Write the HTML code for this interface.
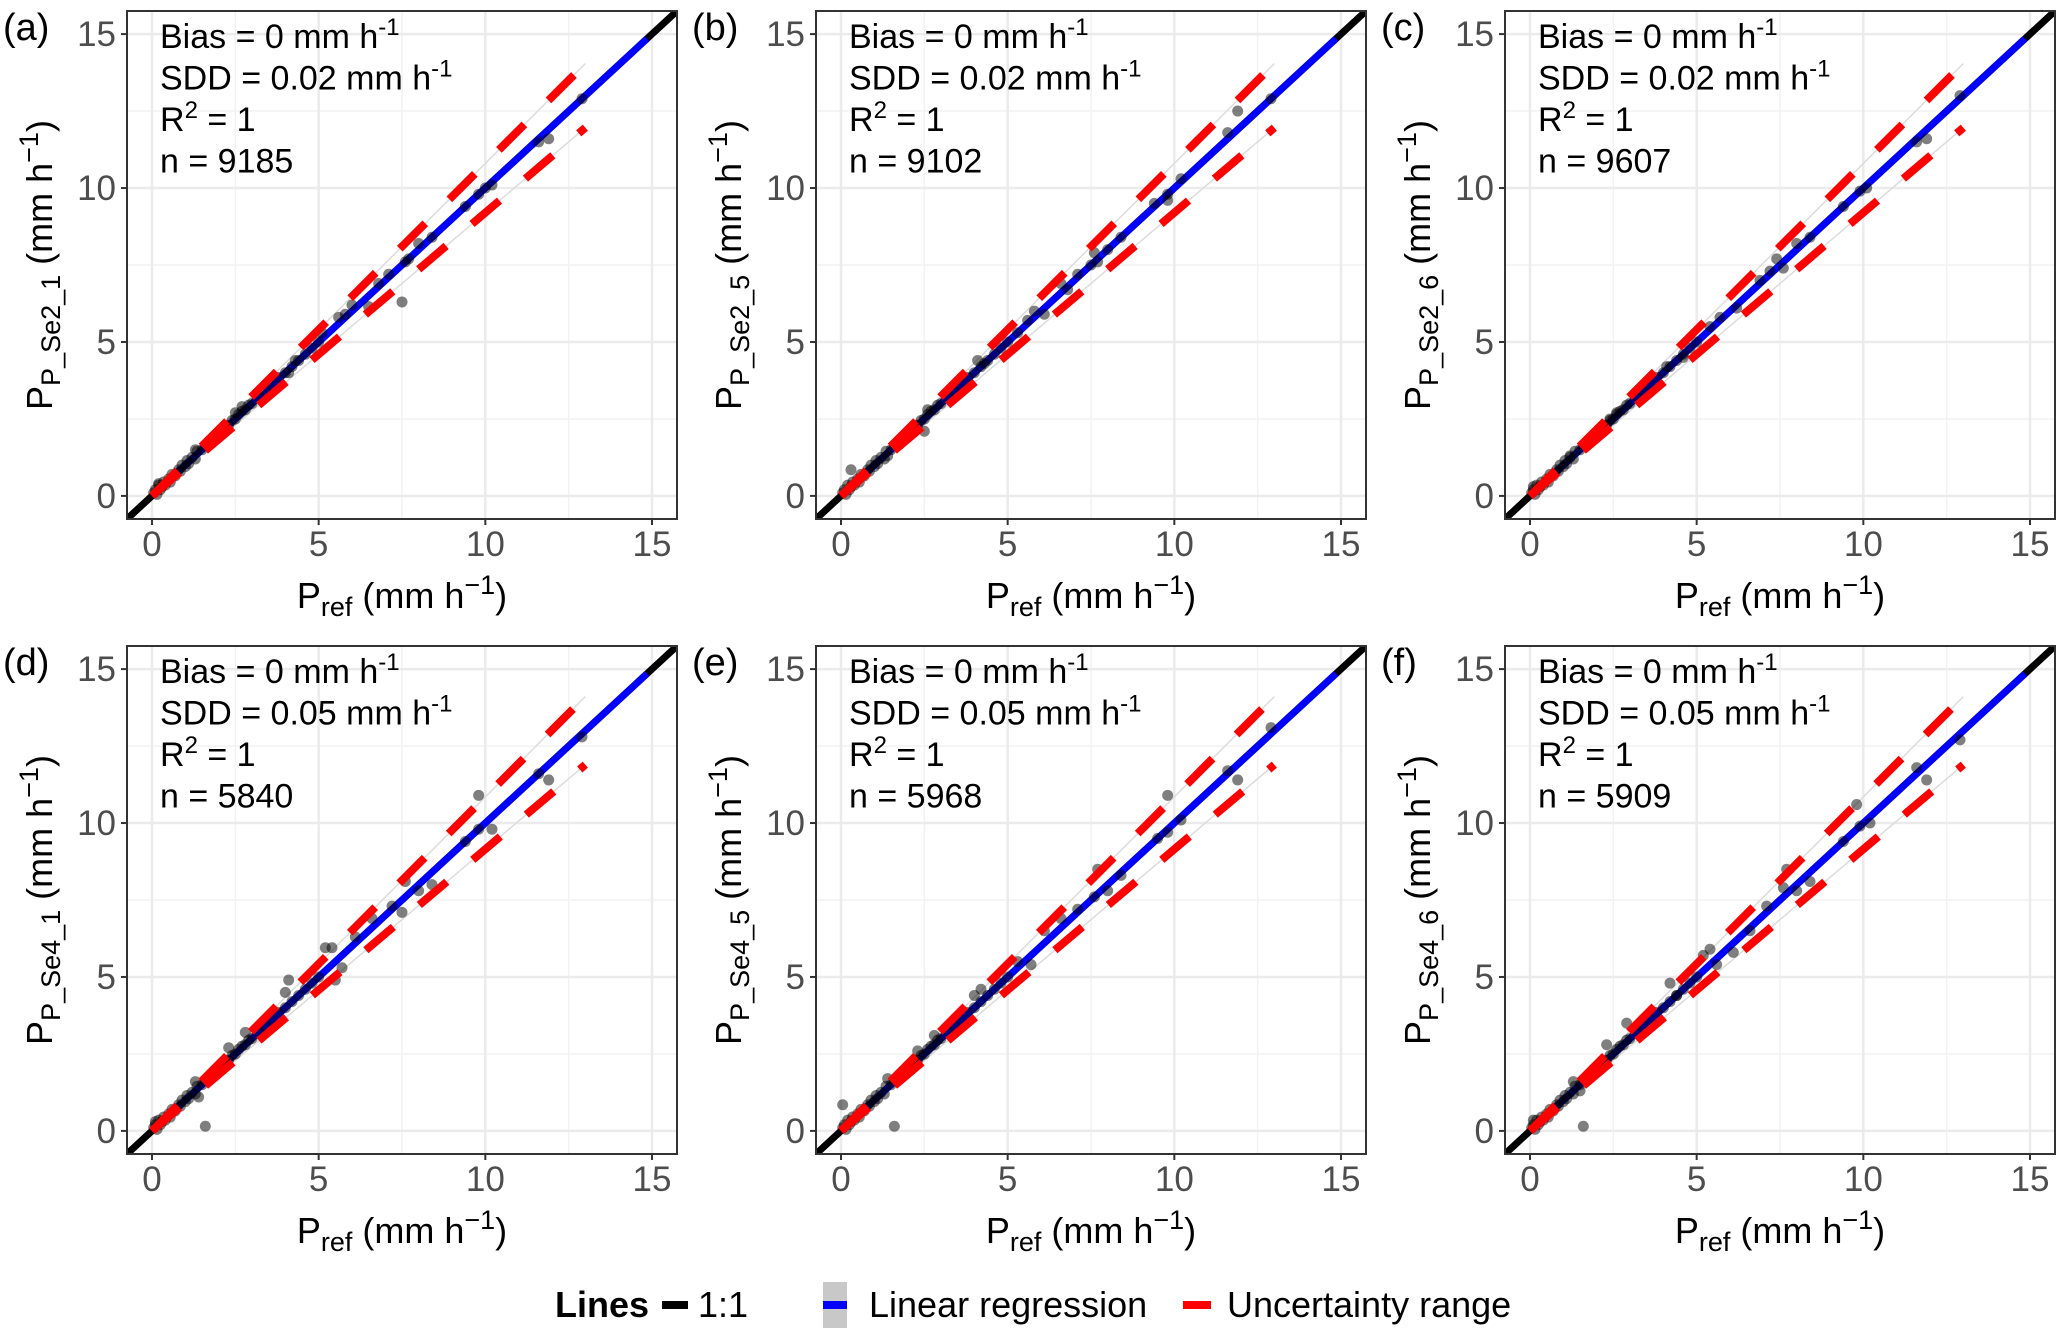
<!DOCTYPE html>
<html><head><meta charset="utf-8"><style>
body{margin:0;background:#fff}
svg text{font-family:"Liberation Sans",Arial,sans-serif}
</style></head><body>
<svg id="fig" xmlns="http://www.w3.org/2000/svg" width="2067" height="1329" viewBox="0 0 2067 1329">
<rect width="2067" height="1329" fill="#fff"/>
<g id="panels"></g>
<g>
<text x="555" y="1317" font-size="36" font-weight="bold">Lines</text>
<line x1="662" y1="1305" x2="688" y2="1305" stroke="#000" stroke-width="8"/>
<text x="698" y="1317" font-size="36">1:1</text>
<rect x="823" y="1282" width="24" height="46" fill="#c8c8c8"/>
<line x1="823" y1="1305" x2="847" y2="1305" stroke="#0000ff" stroke-width="8"/>
<text x="869" y="1317" font-size="36">Linear regression</text>
<line x1="1183" y1="1305" x2="1211" y2="1305" stroke="#ff0000" stroke-width="8"/>
<text x="1227" y="1317" font-size="36">Uncertainty range</text>
</g>
</svg>
<script>
const panelLabels = ['(a)','(b)','(c)','(d)','(e)','(f)'];
const ySubs = ['P_Se2_1','P_Se2_5','P_Se2_6','P_Se4_1','P_Se4_5','P_Se4_6'];
const sddValues = ['0.02','0.02','0.02','0.05','0.05','0.05'];
const nValues = ['9185','9102','9607','5840','5968','5909'];
const uncFrac = [0.08,0.08,0.08,0.085,0.085,0.085];
const ticks = [0,5,10,15];
const minorTicks = [2.5,7.5,12.5];
const commonLow = [[0.05,0.1],[0.1,0.2],[0.15,0.05],[0.2,0.35],[0.25,0.2],[0.3,0.3],[0.35,0.45],[0.4,0.35],[0.5,0.55],[0.55,0.45],[0.6,0.7],[0.7,0.65],[0.8,0.85],[0.85,0.8],[0.9,1.0],[1.0,0.95],[1.05,1.15],[1.1,1.05],[1.2,1.25],[1.3,1.2],[1.35,1.45],[1.5,1.5],[1.6,1.65],[1.7,1.7],[1.8,1.85],[1.9,1.9],[2.0,2.05],[2.1,2.1],[2.2,2.25],[2.3,2.3],[2.4,2.45],[2.5,2.5],[2.6,2.65],[2.7,2.75],[2.8,2.8],[2.9,2.95],[3.0,3.0],[3.2,3.25],[3.4,3.4],[3.6,3.6],[3.8,3.85],[4.0,4.0],[4.2,4.2],[4.4,4.4],[4.6,4.6],[4.8,4.8],[5.0,5.0]];
const ptsA = [[0.2,0.4],[1.3,1.5],[2.5,2.7],[2.7,2.9],[4.1,4.0],[4.3,4.4],[5.1,5.3],[5.6,5.8],[5.8,5.9],[6.0,6.2],[6.5,6.15],[6.8,6.9],[7.1,7.2],[7.6,7.6],[7.7,7.7],[7.5,6.3],[8.0,8.2],[8.4,8.4],[9.4,9.4],[9.8,9.8],[10.0,10.0],[10.2,10.1],[11.6,11.5],[11.9,11.6],[12.9,12.9]];
const ptsB = [[0.3,0.85],[1.4,1.3],[2.5,2.1],[2.6,2.8],[4.1,4.4],[4.3,4.3],[5.3,5.3],[5.6,5.7],[5.8,6.0],[6.1,5.9],[6.6,6.9],[6.8,6.7],[7.1,7.2],[7.6,7.9],[7.5,7.5],[7.7,7.6],[8.0,8.0],[8.4,8.4],[9.4,9.5],[9.8,9.6],[9.8,9.8],[10.2,10.3],[11.6,11.8],[11.9,12.5],[12.9,12.9]];
const ptsC = [[0.1,0.3],[1.2,1.3],[2.4,2.5],[2.6,2.7],[4.1,4.2],[4.6,4.5],[5.4,5.5],[5.7,5.8],[6.2,6.1],[6.9,7.0],[7.2,7.3],[7.4,7.7],[7.6,7.4],[8.0,8.2],[8.4,8.4],[9.4,9.4],[9.9,9.9],[10.1,10.0],[11.6,11.5],[11.9,11.6],[12.9,13.0]];
const ptsD = [[1.6,0.15],[0.1,0.3],[1.3,1.6],[1.4,1.1],[2.3,2.7],[2.8,3.2],[4.1,4.9],[4.0,4.5],[5.2,5.95],[5.4,5.95],[5.5,4.9],[5.7,5.3],[6.1,6.3],[6.6,6.9],[7.2,7.3],[7.5,7.1],[7.6,8.1],[8.0,7.8],[8.4,8.0],[9.4,9.4],[9.8,9.8],[9.8,10.9],[10.2,9.8],[11.6,11.6],[11.9,11.4],[12.9,12.8]];
const ptsE = [[1.6,0.15],[0.05,0.85],[1.4,1.7],[2.3,2.6],[2.8,3.1],[4.2,4.6],[4.0,4.4],[5.3,5.5],[5.7,5.4],[6.1,6.5],[6.6,6.9],[7.1,7.2],[7.7,8.5],[7.6,7.6],[8.0,7.8],[8.4,8.3],[9.5,9.5],[9.8,9.7],[9.8,10.9],[10.2,10.1],[11.6,11.7],[11.9,11.4],[12.9,13.1]];
const ptsF = [[1.6,0.15],[0.1,0.35],[1.3,1.6],[1.5,1.3],[2.3,2.8],[2.9,3.5],[4.2,4.8],[4.4,4.4],[5.2,5.7],[5.4,5.9],[5.6,5.4],[6.1,5.8],[6.6,6.5],[7.1,7.3],[7.7,8.5],[7.6,7.9],[8.0,7.8],[8.4,8.1],[9.4,9.4],[9.8,10.6],[9.9,9.9],[10.2,10.0],[11.6,11.8],[11.9,11.4],[12.9,12.7]];
const panelPts = [ptsA,ptsB,ptsC,ptsD,ptsE,ptsF];

const NS='http://www.w3.org/2000/svg';
const origins=[[127,11],[816,11],[1505,11],[127,646],[816,646],[1505,646]];
const W=550,H=508,DMIN=-0.75,DMAX=15.75;
function mk(tag,attrs,parent){const e=document.createElementNS(NS,tag);for(const k in attrs)e.setAttribute(k,attrs[k]);parent.appendChild(e);return e;}
const root=document.getElementById('panels');
panelLabels.forEach((lab,i)=>{
  const [ox,oy]=origins[i];
  const sx=v=>ox+(v-DMIN)/(DMAX-DMIN)*W;
  const sy=v=>oy+H-(v-DMIN)/(DMAX-DMIN)*H;
  const g=mk('g',{},root);
  
  
  const cp=mk('clipPath',{id:'cp'+i},g);
  mk('rect',{x:ox,y:oy,width:W,height:H},cp);
  minorTicks.forEach(t=>{
    mk('line',{x1:sx(t),x2:sx(t),y1:oy,y2:oy+H,stroke:'#f2f2f2','stroke-width':1.5},g);
    mk('line',{y1:sy(t),y2:sy(t),x1:ox,x2:ox+W,stroke:'#f2f2f2','stroke-width':1.5},g);
  });
  ticks.forEach(t=>{
    mk('line',{x1:sx(t),x2:sx(t),y1:oy,y2:oy+H,stroke:'#ebebeb','stroke-width':2.5},g);
    mk('line',{y1:sy(t),y2:sy(t),x1:ox,x2:ox+W,stroke:'#ebebeb','stroke-width':2.5},g);
  });
  const c=mk('g',{'clip-path':'url(#cp'+i+')'},g);
  const one=mk('line',{x1:sx(DMIN),y1:sy(DMIN),x2:sx(DMAX),y2:sy(DMAX),stroke:'#000','stroke-width':7},c);
  
  
  const f=uncFrac[i];
  [1+f,1-f].forEach((m,k)=>{
    mk('line',{x1:sx(0),y1:sy(0),x2:sx(13),y2:sy(13*m),stroke:'#dcdcdc','stroke-width':1.5},c);
  });
  const reg=mk('line',{x1:sx(0),y1:sy(0),x2:sx(14.85),y2:sy(14.85),stroke:'#0000ff','stroke-width':7},c);
  
  
  panelPts[i].concat(commonLow).forEach(p=>{
    const ci=mk('circle',{cx:sx(p[0]),cy:sy(p[1]),r:5.5,fill:'#000','fill-opacity':0.5},c);
    
    
  });
  [1+f,1-f].forEach((m,k)=>{
    const u=mk('line',{x1:sx(0),y1:sy(0),x2:sx(13),y2:sy(13*m),stroke:'#ff0000','stroke-width':8,'stroke-dasharray':'36 34'},c);
    
    
  });
  mk('rect',{x:ox,y:oy,width:W,height:H,fill:'none',stroke:'#333','stroke-width':2},g);
  ticks.forEach(t=>{
    mk('line',{x1:sx(t),x2:sx(t),y1:oy+H,y2:oy+H+6,stroke:'#333','stroke-width':2},g);
    mk('line',{y1:sy(t),y2:sy(t),x1:ox-6,x2:ox,stroke:'#333','stroke-width':2},g);
    const tx=mk('text',{x:sx(t),y:oy+H+37,'font-size':35,fill:'#4d4d4d','text-anchor':'middle'},g);
    tx.textContent=t;
    
    
    const ty=mk('text',{x:ox-11,y:sy(t)+12,'font-size':35,fill:'#4d4d4d','text-anchor':'end'},g);
    ty.textContent=t;
    
    
  });
  const pl=mk('text',{x:ox-124,y:oy+29,'font-size':38},g);
  pl.textContent=lab;
  
  
  const xt=mk('text',{x:ox+W/2,y:oy+H+89,'font-size':36,'text-anchor':'middle'},g);
  xt.innerHTML='P<tspan font-size="27" dy="8">ref</tspan><tspan dy="-8"> (mm h</tspan><tspan font-size="27" dy="-14">−1</tspan><tspan dy="14">)</tspan>';
  
  
  const yt=mk('text',{x:0,y:0,'font-size':36,'text-anchor':'middle',transform:'translate('+(ox-75)+','+(oy+H/2)+') rotate(-90)'},g);
  yt.innerHTML='P<tspan font-size="27" dy="8">'+ySubs[i]+'</tspan><tspan dy="-8"> (mm h</tspan><tspan font-size="27" dy="-14">−1</tspan><tspan dy="14">)</tspan>';
  
  
  const ann=mk('g',{'font-size':34},g);
  
  
  const tx0=ox+33;
  const l1=mk('text',{x:tx0,y:oy+37},ann);
  l1.innerHTML='Bias = 0 mm h<tspan font-size="24" dy="-13">-1</tspan>';
  const l2=mk('text',{x:tx0,y:oy+78.5},ann);
  l2.innerHTML='SDD = '+sddValues[i]+' mm h<tspan font-size="24" dy="-13">-1</tspan>';
  const l3=mk('text',{x:tx0,y:oy+120},ann);
  l3.innerHTML='R<tspan font-size="24" dy="-13">2</tspan><tspan dy="13"> = 1</tspan>';
  const l4=mk('text',{x:tx0,y:oy+161.5},ann);
  l4.textContent='n = '+nValues[i];
});
</script>
</body></html>
